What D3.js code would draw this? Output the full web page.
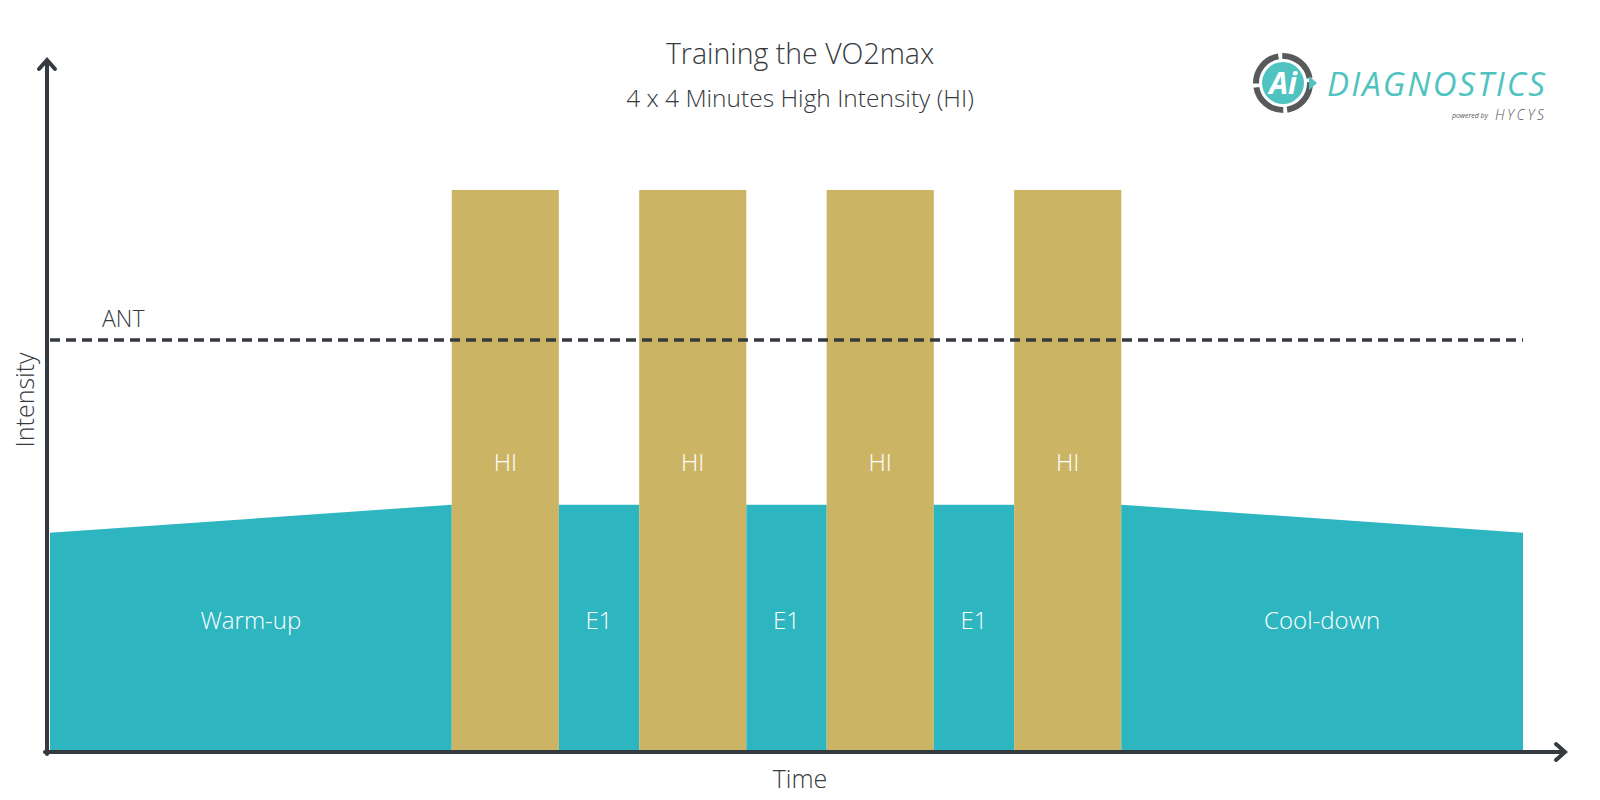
<!DOCTYPE html>
<html>
<head>
<meta charset="utf-8">
<script src="https://cdn.jsdelivr.net/npm/d3@7"></script>
<style>
  body { margin: 0; background: #fff; }
  text { font-family: "Open Sans", sans-serif; font-weight: 300; }
</style>
</head>
<body>
<div id="chart"></div>
<script>
// phases in minutes: warm-up, 4 x (HI + E1 recovery), cool-down
var phases = ["Warm-up", "HI", "E1", "HI", "E1", "HI", "E1", "HI", "Cool-down"];
var durations = [15, 4, 3, 4, 3, 4, 3, 4, 15];
var startLevel = [39, 100, 44, 100, 44, 100, 44, 100, 44];
var endLevel = [44, 100, 44, 100, 44, 100, 44, 100, 39];
var antLevel = 73.3;

var W = 1600, H = 800;
var svg = d3.select('#chart').append('svg')
    .attr('width', W)
    .attr('height', H);

var x = d3.scaleLinear().domain([0, 55]).range([50, 1523]);
var y = d3.scaleLinear().domain([0, 100]).range([752, 190]);

var ink = '#353a40', teal = '#2db6c0', gold = '#cbb564';

// build segments from durations
var t = 0;
var segs = phases.map(function (p, i) {
  var s = { name: p, t0: t, t1: t + durations[i], v0: startLevel[i], v1: endLevel[i] };
  t += durations[i];
  return s;
});

var area = d3.area()
    .x(function (d) { return x(d[0]); })
    .y0(y(0))
    .y1(function (d) { return y(d[1]); });

svg.append('g').selectAll('path')
  .data(segs)
  .enter().append('path')
    .attr('d', function (d) { return area([[d.t0, d.v0], [d.t1, d.v1]]); })
    .attr('fill', function (d) { return d.name == 'HI' ? gold : teal; });

// segment labels
svg.append('g').selectAll('text')
  .data(segs)
  .enter().append('text')
    .attr('x', function (d) { return x((d.t0 + d.t1) / 2); })
    .attr('y', function (d) { return d.name == 'HI' ? 463 : 621; })
    .attr('dy', '0.35em')
    .attr('text-anchor', 'middle')
    .attr('fill', '#fff')
    .style('font-size', '24px')
    .text(function (d) { return d.name; });

// ANT threshold
svg.append('line')
    .attr('x1', x(0)).attr('x2', x(55))
    .attr('y1', y(antLevel)).attr('y2', y(antLevel))
    .attr('stroke', ink)
    .attr('stroke-width', 3.5)
    .attr('stroke-dasharray', '10,6');
svg.append('text')
    .attr('x', 102).attr('y', y(antLevel) - 21)
    .attr('dy', '0.35em')
    .attr('fill', ink)
    .style('font-size', '23px')
    .text('ANT');

// axes with arrows
var axes = svg.append('g').attr('stroke', ink).attr('stroke-width', 4).attr('fill', 'none')
    .attr('stroke-linecap', 'round');
axes.append('line').attr('x1', 47).attr('y1', 754).attr('x2', 47).attr('y2', 61);
axes.append('path').attr('d', 'M39,69 L47,60 L55,69');
axes.append('line').attr('x1', 45).attr('y1', 752).attr('x2', 1564).attr('y2', 752);
axes.append('path').attr('d', 'M1556,744 L1565,752 L1556,760');

svg.append('text')
    .attr('transform', 'translate(25,400) rotate(-90)')
    .attr('dy', '0.35em')
    .attr('text-anchor', 'middle')
    .attr('fill', ink)
    .style('font-size', '25px')
    .text('Intensity');
svg.append('text')
    .attr('x', 800).attr('y', 779)
    .attr('dy', '0.35em')
    .attr('text-anchor', 'middle')
    .attr('fill', ink)
    .style('font-size', '25px')
    .text('Time');

// titles
svg.append('text')
    .attr('x', 800).attr('y', 54)
    .attr('dy', '0.35em')
    .attr('text-anchor', 'middle')
    .attr('fill', ink)
    .style('font-size', '28.5px')
    .text('Training the VO2max');
svg.append('text')
    .attr('x', 800).attr('y', 98)
    .attr('dy', '0.35em')
    .attr('text-anchor', 'middle')
    .attr('fill', ink)
    .style('font-size', '24.5px')
    .text('4 x 4 Minutes High Intensity (HI)');

// logo
var logo = svg.append('g');
logo.append('circle').attr('cx', 1283).attr('cy', 83).attr('r', 27)
    .attr('fill', 'none').attr('stroke', '#58595b').attr('stroke-width', 6)
    .attr('stroke-dasharray', '38,4');
logo.append('circle').attr('cx', 1283).attr('cy', 83).attr('r', 21).attr('fill', '#4fc3c0');
logo.append('path').attr('d', 'M1309,76 L1317,83 L1309,90').attr('fill', '#4fc3c0');
logo.append('text')
    .attr('x', 1283).attr('y', 94)
    .attr('text-anchor', 'middle')
    .attr('fill', '#fff')
    .style('font-size', '30px').style('font-weight', 700).style('font-style', 'italic')
    .text('Ai');
logo.append('text')
    .attr('x', 1327).attr('y', 96)
    .attr('fill', '#4fc3c0')
    .attr('textLength', 218)
    .style('font-size', '33px').style('font-weight', 400).style('font-style', 'italic')
    .text('DIAGNOSTICS');
logo.append('text')
    .attr('x', 1452).attr('y', 118)
    .attr('fill', '#555')
    .style('font-size', '7px').style('font-weight', 400).style('font-style', 'italic')
    .text('powered by');
logo.append('text')
    .attr('x', 1495).attr('y', 120)
    .attr('fill', '#555')
    .attr('textLength', 49)
    .style('font-size', '14px').style('font-weight', 300).style('font-style', 'italic')
    .text('HYCYS');
</script>
</body>
</html>
